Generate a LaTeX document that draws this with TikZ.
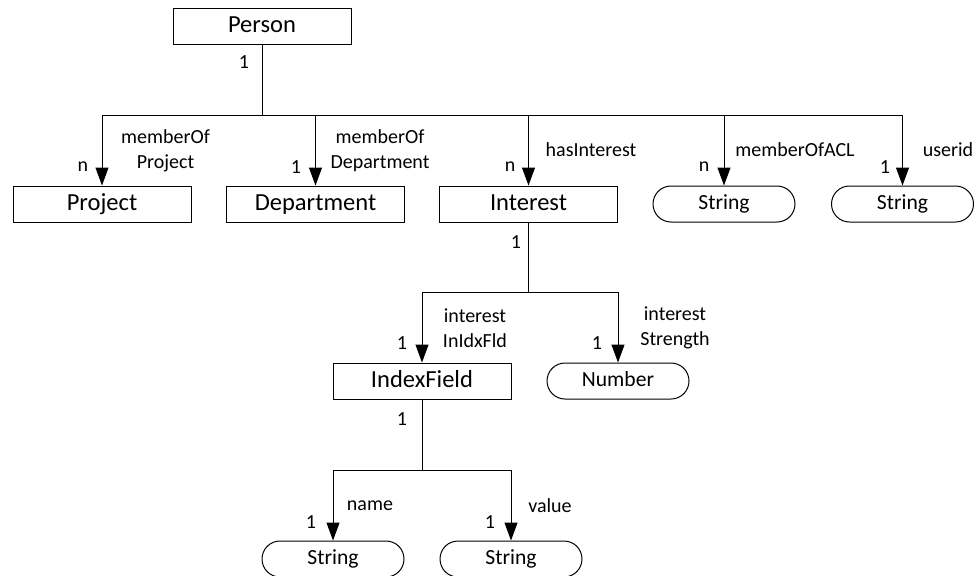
\documentclass[tikz,border=0pt]{standalone}
\usepackage{fontspec}
\setmainfont{Carlito}
\usetikzlibrary{arrows.meta}
\begin{document}
\begin{tikzpicture}[x=0.75pt,y=-0.75pt,
  line width=0.75pt,
  entity/.style={draw,rectangle,inner sep=0pt,minimum width=133.5pt,minimum height=27pt,
    text height=12.6pt,text depth=3.4pt,font=\fontsize{18.4}{22}\selectfont},
  literal/.style={draw,rectangle,rounded corners=13.5pt,inner sep=0pt,minimum width=106.5pt,
    minimum height=27pt,text height=11.2pt,text depth=3pt,font=\fontsize{16.2}{20}\selectfont},
  rel/.style={-{Triangle[length=13.5pt,width=9.75pt]}},
  lbl/.style={align=center,inner sep=0pt,font=\fontsize{15}{18.75}\selectfont},
  card/.style={inner sep=0pt,font=\fontsize{15}{18}\selectfont}]
\useasboundingbox (0,0) rectangle (977,575);

% entities and literals
\node[entity] (person) at (262,26) {Person};
\node[entity] (project) at (102,204) {Project};
\node[entity] (dept) at (315.5,204) {Department};
\node[entity] (interest) at (528.5,204) {Interest};
\node[literal] (acl) at (724,204) {String};
\node[literal] (userid) at (902.5,204) {String};
\node[entity] (idx) at (422,381) {IndexField};
\node[literal] (number) at (618,381) {Number};
\node[literal] (name) at (333,559) {String};
\node[literal] (value) at (511,559) {String};

% bus junctions
\coordinate (pj) at (262,115);
\coordinate (ij) at (528.5,292);
\coordinate (xj) at (422,470);

% Person relations
\draw (person.south) -- (pj);
\draw[rel] (pj) -| (project.north);
\draw[rel] (pj) -| (dept.north);
\draw[rel] (pj) -| (interest.north);
\draw[rel] (pj) -| (acl.north);
\draw[rel] (pj) -| (userid.north);

% Interest relations
\draw (interest.south) -- (ij);
\draw[rel] (ij) -| (idx.north);
\draw[rel] (ij) -| (number.north);

% IndexField relations
\draw (idx.south) -- (xj);
\draw[rel] (xj) -| (name.north);
\draw[rel] (xj) -| (value.north);

% labels and cardinalities
\node[card] (c0) at (244,62) {1};
\node[lbl] (l1) at (165.5,150.5) {memberOf\\Project};
\node[card] (c1) at (83,167) {n};
\node[lbl] (l2) at (380,150.5) {memberOf\\Department};
\node[card] (c2) at (296,167) {1};
\node[lbl] (l3) at (591,150) {hasInterest};
\node[card] (c3) at (510,167) {n};
\node[lbl] (l4) at (795,150) {memberOfACL};
\node[card] (c4) at (704,167) {n};
\node[lbl] (l5) at (948,150) {userid};
\node[card] (c5) at (885,167) {1};

\node[card] (c6) at (516,242) {1};
\node[lbl] (l6) at (475,328) {interest\\InIdxFld};
\node[card] (c7) at (402,343) {1};
\node[lbl] (l7) at (675,328) {interest\\Strength};
\node[card] (c8) at (597,343) {1};

\node[card] (c9) at (402,419) {1};
\node[lbl] (l8) at (370,506) {name};
\node[card] (c10) at (311,522) {1};
\node[lbl] (l9) at (550,506) {value};
\node[card] (c11) at (490,522) {1};
\end{tikzpicture}
\end{document}
